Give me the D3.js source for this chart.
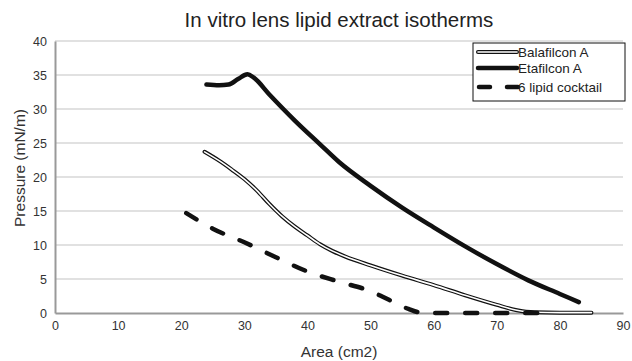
<!DOCTYPE html>
<html>
<head>
<meta charset="utf-8">
<script src="https://cdn.jsdelivr.net/npm/d3@7"></script>
<style>
  body { margin: 0; background: #fff; }
  svg text { font-family: "Liberation Sans", Arial, sans-serif; }
</style>
</head>
<body>
<svg id="chart" width="632" height="361"></svg>
<script>
// datos
const xTicks = [0, 10, 20, 30, 40, 50, 60, 70, 80, 90];
const yTicks = [0, 5, 10, 15, 20, 25, 30, 35, 40];

const seriesNames = ['Balafilcon A', 'Etafilcon A', '6 lipid cocktail'];

const balafilcon = [
  [23.7, 23.7], [26, 22.4], [28, 21.1], [30, 19.7], [32, 18.0], [34, 16.0],
  [36, 14.2], [38, 12.7], [40, 11.4], [42, 10.1], [44, 9.1], [46, 8.3],
  [50, 7.0], [55, 5.5], [60, 4.1], [65, 2.6], [70, 1.2], [73, 0.45],
  [76, 0.1], [80, 0.05], [85, 0.05]
];

const etafilcon = [
  [24, 33.6], [26, 33.5], [27.5, 33.6], [29, 34.4], [30.5, 35.1], [31.5, 34.6],
  [34, 32.1], [38, 28.3], [42, 24.8], [45, 22.2],
  [50, 18.7], [55, 15.5], [60, 12.6], [65, 9.8], [70, 7.2], [75, 4.8],
  [80, 2.8], [83, 1.6]
];

const cocktail = [
  [20.8, 14.7], [25, 12.4], [30, 10.4], [35, 8.2], [40, 6.1], [45, 4.6],
  [50, 3.2], [53, 1.9], [56, 0.6], [58, 0.05], [60, 0], [78, 0]
];

const svg = d3.select('#chart');
const margin = { left: 55, right: 9, top: 41, bottom: 48 };
const W = 632, H = 361;

const x = d3.scaleLinear().domain([0, 90]).range([margin.left, W - margin.right]);
const y = d3.scaleLinear().domain([0, 40]).range([H - margin.bottom, margin.top]);

// rejilla horizontal
svg.append('g')
  .selectAll('line')
  .data(yTicks.filter(d => d > 0))
  .enter().append('line')
  .attr('x1', x(0)).attr('x2', x(90))
  .attr('y1', d => y(d)).attr('y2', d => y(d))
  .attr('stroke', '#c4c4c4').attr('stroke-width', 1.2);

// ejes
const xAxis = svg.append('g')
  .attr('transform', `translate(0,${y(0)})`)
  .call(d3.axisBottom(x).tickValues(xTicks).tickSize(0).tickPadding(8));
const yAxis = svg.append('g')
  .attr('transform', `translate(${x(0)},0)`)
  .call(d3.axisLeft(y).tickValues(yTicks).tickSize(0).tickPadding(8));

[xAxis, yAxis].forEach(a => {
  a.select('.domain').attr('stroke', '#999').attr('stroke-width', 2);
  a.selectAll('text').attr('fill', '#333').style('font-size', '12.5px');
});

const line = d3.line().x(d => x(d[0])).y(d => y(d[1])).curve(d3.curveMonotoneX);

// Balafilcon A: línea doble (contorno negro, interior blanco)
svg.append('path').datum(balafilcon)
  .attr('d', line).attr('fill', 'none')
  .attr('stroke', '#111').attr('stroke-width', 4).attr('stroke-linecap', 'round');
svg.append('path').datum(balafilcon)
  .attr('d', line).attr('fill', 'none')
  .attr('stroke', '#fff').attr('stroke-width', 1.6).attr('stroke-linecap', 'round');

// Etafilcon A
svg.append('path').datum(etafilcon)
  .attr('d', line).attr('fill', 'none')
  .attr('stroke', '#111').attr('stroke-width', 4.5).attr('stroke-linecap', 'round')
  .attr('stroke-linejoin', 'round');

// 6 lipid cocktail
svg.append('path').datum(cocktail)
  .attr('d', line).attr('fill', 'none')
  .attr('stroke', '#111').attr('stroke-width', 4.5).attr('stroke-linecap', 'round')
  .attr('stroke-dasharray', '12,18');

// título
svg.append('text')
  .attr('x', 339).attr('y', 27)
  .attr('text-anchor', 'middle')
  .style('font-size', '20.5px').attr('fill', '#222')
  .text('In vitro lens lipid extract isotherms');

// etiquetas de ejes
svg.append('text')
  .attr('x', 339).attr('y', 357)
  .attr('text-anchor', 'middle')
  .style('font-size', '15.5px').attr('fill', '#333')
  .text('Area (cm2)');
svg.append('text')
  .attr('transform', `translate(25,168) rotate(-90)`)
  .attr('text-anchor', 'middle')
  .style('font-size', '15.5px').attr('fill', '#333')
  .text('Pressure (mN/m)');

// leyenda
const lg = svg.append('g').attr('transform', 'translate(473,43)');
lg.append('rect')
  .attr('width', 152).attr('height', 58)
  .attr('fill', '#fff').attr('stroke', '#111').attr('stroke-width', 1);
const rowY = [9, 25, 44];
seriesNames.forEach((name, i) => {
  const g = lg.append('g').attr('transform', `translate(0,${rowY[i]})`);
  if (i === 0) {
    g.append('line').attr('x1', 5).attr('x2', 44).attr('stroke', '#111').attr('stroke-width', 4).attr('stroke-linecap', 'round');
    g.append('line').attr('x1', 5).attr('x2', 44).attr('stroke', '#fff').attr('stroke-width', 1.6).attr('stroke-linecap', 'round');
  } else if (i === 1) {
    g.append('line').attr('x1', 5).attr('x2', 44).attr('stroke', '#111').attr('stroke-width', 4.5).attr('stroke-linecap', 'round');
  } else {
    g.append('line').attr('x1', 6).attr('x2', 45).attr('stroke', '#111').attr('stroke-width', 4.5)
      .attr('stroke-linecap', 'round').attr('stroke-dasharray', '11,17');
  }
  g.append('text').attr('x', 45).attr('y', 5)
    .style('font-size', '13.5px').attr('fill', '#222').text(name);
});
</script>
</body>
</html>
